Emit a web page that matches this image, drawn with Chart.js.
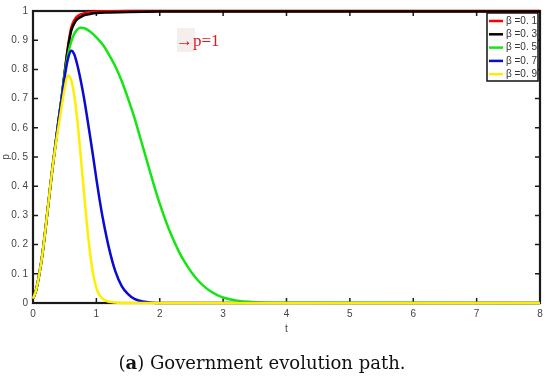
<!DOCTYPE html>
<html>
<head>
<meta charset="utf-8">
<script src="https://cdn.jsdelivr.net/npm/chart.js@4.4.1/dist/chart.umd.min.js"></script>
<style>
  html, body { margin: 0; padding: 0; background: #fff; }
</style>
</head>
<body>
<canvas id="chart" width="550" height="381"></canvas>
<script>
// --- data ---
const seriesLabels = ['β =0. 1', 'β =0. 3', 'β =0. 5', 'β =0. 7', 'β =0. 9'];
const xTickLabels = ['0', '1', '2', '3', '4', '5', '6', '7', '8'];
const yTickLabels = ['0', '0. 1', '0. 2', '0. 3', '0. 4', '0. 5', '0. 6', '0. 7', '0. 8', '0. 9', '1'];

const tRed = [0, 0.05, 0.1, 0.15, 0.2, 0.25, 0.3, 0.35, 0.4, 0.45, 0.5, 0.55, 0.6, 0.65, 0.7, 0.8, 0.9, 1.0, 1.2, 1.5, 2, 8];
const pRed = [0.015, 0.045, 0.1, 0.17, 0.26, 0.355, 0.45, 0.535, 0.62, 0.7, 0.79, 0.875, 0.94, 0.968, 0.982, 0.992, 0.996, 0.998, 0.999, 1, 1, 1];

const tBlack = [0, 0.05, 0.1, 0.15, 0.2, 0.25, 0.3, 0.35, 0.4, 0.45, 0.5, 0.55, 0.6, 0.65, 0.7, 0.8, 0.9, 1.0, 1.2, 1.5, 2, 3, 8];
const pBlack = [0.015, 0.045, 0.1, 0.17, 0.26, 0.355, 0.45, 0.535, 0.62, 0.7, 0.79, 0.87, 0.93, 0.957, 0.972, 0.985, 0.99, 0.993, 0.995, 0.997, 0.998, 0.998, 0.998];

const tGreen = [0, 0.05, 0.1, 0.15, 0.2, 0.25, 0.3, 0.35, 0.4, 0.45, 0.5, 0.55, 0.6, 0.65, 0.7, 0.75, 0.8, 0.9, 1.0, 1.1, 1.2, 1.3, 1.4, 1.5, 1.6, 1.7, 1.8, 1.9, 2.0, 2.1, 2.2, 2.3, 2.4, 2.5, 2.6, 2.7, 2.8, 2.9, 3.0, 3.2, 3.5, 4, 8];
const pGreen = [0.015, 0.045, 0.1, 0.17, 0.26, 0.355, 0.45, 0.535, 0.62, 0.7, 0.785, 0.848, 0.893, 0.921, 0.937, 0.943, 0.942, 0.93, 0.91, 0.885, 0.85, 0.81, 0.76, 0.7, 0.635, 0.56, 0.485, 0.41, 0.34, 0.278, 0.224, 0.177, 0.138, 0.105, 0.078, 0.057, 0.04, 0.028, 0.019, 0.009, 0.003, 0.0005, 0];

const tBlue = [0, 0.05, 0.1, 0.15, 0.2, 0.25, 0.3, 0.35, 0.4, 0.45, 0.5, 0.55, 0.605, 0.65, 0.7, 0.75, 0.8, 0.85, 0.9, 0.95, 1.0, 1.05, 1.1, 1.2, 1.3, 1.4, 1.5, 1.6, 1.73, 1.9, 2.1, 8];
const pBlue = [0.015, 0.045, 0.1, 0.17, 0.26, 0.355, 0.45, 0.535, 0.62, 0.695, 0.775, 0.835, 0.864, 0.852, 0.815, 0.765, 0.708, 0.642, 0.572, 0.5, 0.425, 0.355, 0.292, 0.187, 0.108, 0.058, 0.03, 0.014, 0.005, 0.001, 0, 0];

const tYellow = [0, 0.05, 0.1, 0.15, 0.2, 0.25, 0.3, 0.35, 0.4, 0.45, 0.5, 0.55, 0.6, 0.65, 0.7, 0.75, 0.8, 0.85, 0.9, 0.95, 1.0, 1.05, 1.13, 1.3, 1.5, 8];
const pYellow = [0.015, 0.045, 0.1, 0.17, 0.26, 0.355, 0.45, 0.53, 0.6, 0.67, 0.735, 0.78, 0.765, 0.712, 0.625, 0.51, 0.39, 0.272, 0.172, 0.098, 0.052, 0.026, 0.01, 0.002, 0, 0];

const lineColors = ['#ff0000', '#000000', '#14e614', '#0a0ad2', '#ffee00'];

function pts(t, p) {
    return t.map((x, i) => ({ x: x, y: p[i] }));
}

const seriesT = [tRed, tBlack, tGreen, tBlue, tYellow];
const seriesP = [pRed, pBlack, pGreen, pBlue, pYellow];

const datasets = seriesLabels.map((lab, i) => ({
    label: lab,
    data: pts(seriesT[i], seriesP[i]),
    borderColor: lineColors[i],
    borderWidth: 2.5,
    pointRadius: 0,
    fill: false,
    cubicInterpolationMode: 'monotone',
    clip: 4,
    order: 5 - i  // later series on top, like matlab
}));

const tickFont = { size: 10, family: '"Liberation Sans", Arial, sans-serif' };

// frame with inward ticks, drawn under the lines
const framePlugin = {
    id: 'frame',
    beforeDatasetsDraw(chart) {
        const { ctx, chartArea: a, scales } = chart;
        ctx.save();
        ctx.strokeStyle = '#1a1a1a';
        ctx.lineWidth = 1.5;
        for (let v = 1; v < 8; v++) {
            const x = scales.x.getPixelForValue(v);
            ctx.beginPath();
            ctx.moveTo(x, a.bottom); ctx.lineTo(x, a.bottom - 5);
            ctx.moveTo(x, a.top); ctx.lineTo(x, a.top + 5);
            ctx.stroke();
        }
        for (let k = 1; k < 10; k++) {
            const y = scales.y.getPixelForValue(k / 10);
            ctx.beginPath();
            ctx.moveTo(a.left, y); ctx.lineTo(a.left + 5, y);
            ctx.moveTo(a.right, y); ctx.lineTo(a.right - 5, y);
            ctx.stroke();
        }
        ctx.lineWidth = 2.2;
        ctx.strokeRect(a.left, a.top, a.right - a.left, a.bottom - a.top);
        ctx.restore();
    }
};

// legend box, annotation and caption
const extrasPlugin = {
    id: 'extras',
    afterDatasetsDraw(chart) {
        const { ctx, chartArea: a } = chart;
        ctx.save();

        // legend
        const bx = a.right - 53, by = a.top + 2, bw = 51, bh = 68;
        ctx.fillStyle = '#fff';
        ctx.fillRect(bx, by, bw, bh);
        ctx.strokeStyle = '#111';
        ctx.lineWidth = 1.5;
        ctx.strokeRect(bx, by, bw, bh);
        ctx.font = '10px "Liberation Sans", Arial, sans-serif';
        ctx.textBaseline = 'middle';
        chart.data.datasets.forEach((ds, i) => {
            const y = by + 8 + i * 13.3;
            ctx.strokeStyle = ds.borderColor;
            ctx.lineWidth = 2.5;
            ctx.beginPath();
            ctx.moveTo(bx + 2, y); ctx.lineTo(bx + 16, y);
            ctx.stroke();
            ctx.fillStyle = '#333';
            ctx.fillText(ds.label, bx + 19, y);
        });

        // annotation
        ctx.fillStyle = '#f4eeec';
        ctx.fillRect(177, 28, 18, 24);
        ctx.fillStyle = '#e8141e';
        ctx.font = '17px "Liberation Serif", "Times New Roman", serif';
        ctx.textBaseline = 'middle';
        ctx.fillText('→p=1', 176, 42);

        // caption, sized to the width seen in the picture
        const parts = [['(', false], ['a', true], [') Government evolution path.', false]];
        const fam = '"DejaVu Serif", "Liberation Serif", serif';
        const measure = size => {
            let w = 0;
            parts.forEach(([s, b]) => { ctx.font = (b ? 'bold ' : '') + size + 'px ' + fam; w += ctx.measureText(s).width; });
            return w;
        };
        const size = Math.round(17 * 287 / measure(17) * 10) / 10;
        const total = measure(size);
        let x = 262 - total / 2;
        ctx.fillStyle = '#111';
        ctx.textBaseline = 'alphabetic';
        parts.forEach(([s, b]) => {
            ctx.font = (b ? 'bold ' : '') + size + 'px ' + fam;
            ctx.fillText(s, x, 369);
            x += ctx.measureText(s).width;
        });
        ctx.restore();
    }
};

new Chart(document.getElementById('chart'), {
    type: 'line',
    data: { datasets: datasets },
    options: {
        responsive: false,
        animation: false,
        layout: { padding: { left: 0, right: 10, top: 10, bottom: 46 } },
        plugins: { legend: { display: false }, tooltip: { enabled: false } },
        scales: {
            x: {
                type: 'linear', min: 0, max: 8,
                grid: { display: false, drawTicks: false },
                border: { display: false },
                ticks: {
                    stepSize: 1, padding: 5, color: '#444', font: tickFont,
                    callback: (v, i) => xTickLabels[i]
                },
                title: { display: true, text: 't', color: '#444', padding: 0, font: tickFont },
                afterFit: s => { s.height = 32; }
            },
            y: {
                min: 0, max: 1,
                grid: { display: false, drawTicks: false },
                border: { display: false },
                ticks: {
                    stepSize: 0.1, padding: 5, color: '#444', font: tickFont,
                    callback: (v, i) => yTickLabels[i]
                },
                title: { display: true, text: 'p', color: '#444', padding: 0, font: tickFont },
                afterFit: s => { s.width = 33; }
            }
        }
    },
    plugins: [framePlugin, extrasPlugin]
});
</script>
</body>
</html>
